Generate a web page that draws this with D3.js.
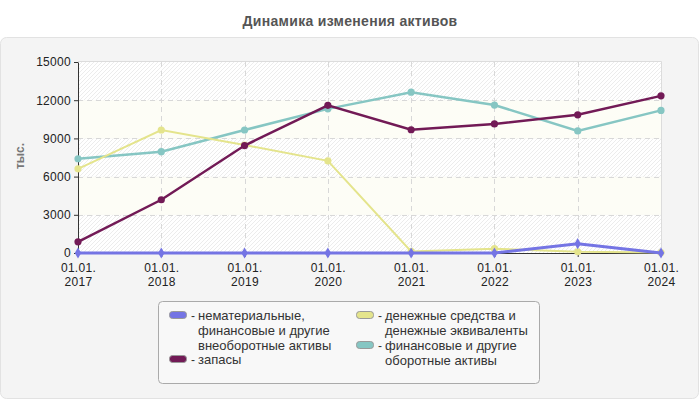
<!DOCTYPE html>
<html>
<head>
<meta charset="utf-8">
<script src="https://cdn.jsdelivr.net/npm/d3@7"></script>
<style>
   body { margin: 0; background: #fff; font-family: "Liberation Sans", Arial, sans-serif; }
   svg text { font-family: "Liberation Sans", Arial, sans-serif; }
</style>
</head>
<body>
<script>
// данные графика
years = ['2017', '2018', '2019', '2020', '2021', '2022', '2023', '2024'];
seriesNames = [
   ['нематериальные,', 'финансовые и другие', 'внеоборотные активы'],
   ['запасы'],
   ['денежные средства и', 'денежные эквиваленты'],
   ['финансовые и другие', 'оборотные активы']
];
intangible = [0, 0, 0, 0, 0, 0, 730, 0];
stocks = [880, 4180, 8440, 11600, 9680, 10140, 10850, 12340];
cash = [6610, 9660, 8480, 7240, 120, 340, 100, 30];
current = [7400, 7960, 9660, 11320, 12630, 11620, 9590, 11200];
yTicks = [0, 3000, 6000, 9000, 12000, 15000];
colors = ['#7474e4', '#721a56', '#e4e48c', '#86c6c3'];

svgWidth = 700;
svgHeight = 400;

svg = d3.select('body').append('svg')
   .attr('width', svgWidth)
   .attr('height', svgHeight);

// заголовок
svg.append('text')
   .attr('x', 350).attr('y', 26)
   .attr('text-anchor', 'middle')
   .style('font-size', '14px').style('font-weight', 'bold').style('fill', '#555')
   .style('letter-spacing', '0.3px')
   .text('Динамика изменения активов');

// серая панель
svg.append('rect')
   .attr('x', 0.5).attr('y', 37.5)
   .attr('width', 698).attr('height', 361)
   .attr('rx', 6).attr('ry', 6)
   .attr('fill', '#f4f4f4').attr('stroke', '#e2e2e2');

// штриховка
defs = svg.append('defs');
pat = defs.append('pattern')
   .attr('id', 'hatch')
   .attr('patternUnits', 'userSpaceOnUse')
   .attr('width', 4).attr('height', 4);
pat.append('rect').attr('width', 4).attr('height', 4).attr('fill', '#ffffff');
pat.append('path').attr('d', 'M-1,1 l2,-2 M0,4 l4,-4 M3,5 l2,-2')
   .attr('stroke', '#ececec').attr('stroke-width', 1);

pL = 78; pR = 661; pT = 62; pB = 253;

x = d3.scalePoint().domain(years).range([pL, pR]);
y = d3.scaleLinear().domain([0, 15000]).range([pB, pT]);

g = svg.append('g');
// полосы фона
for (i = 0; i < yTicks.length - 1; i++) {
   g.append('rect')
      .attr('x', pL).attr('y', y(yTicks[i + 1]))
      .attr('width', pR - pL).attr('height', y(yTicks[i]) - y(yTicks[i + 1]))
      .attr('fill', i % 2 === 0 ? 'url(#hatch)' : '#fdfdf6');
}
// рамка
g.append('path')
   .attr('d', 'M' + pL + ',' + (pT - 0.5) + 'H' + (pR + 0.5) + 'V' + pB)
   .attr('fill', 'none').attr('stroke', '#dcdcdc');

// сетка
g.selectAll('.hgrid').data(yTicks.slice(1, -1)).enter().append('line')
   .attr('x1', pL).attr('x2', pR)
   .attr('y1', (d) => {return Math.round(y(d)) + 0.5})
   .attr('y2', (d) => {return Math.round(y(d)) + 0.5})
   .attr('stroke', '#d8d8d8').attr('stroke-dasharray', '5,4');
g.selectAll('.vgrid').data(years.slice(1, -1)).enter().append('line')
   .attr('x1', (d) => {return Math.round(x(d)) + 0.5})
   .attr('x2', (d) => {return Math.round(x(d)) + 0.5})
   .attr('y1', pT).attr('y2', pB)
   .attr('stroke', '#d8d8d8').attr('stroke-dasharray', '5,4');

// оси
yAxis = svg.append('g')
   .attr('transform', 'translate(' + pL + ',0)')
   .call(d3.axisLeft(y).tickValues(yTicks).tickSize(4).tickSizeOuter(0).tickPadding(3).tickFormat(d3.format('d')));
xAxis = svg.append('g')
   .attr('transform', 'translate(0,' + pB + ')')
   .call(d3.axisBottom(x).tickSize(4).tickSizeOuter(0).tickFormat(''));
svg.selectAll('.domain').attr('stroke', '#333');
svg.selectAll('.tick line').attr('stroke', '#333');
yAxis.selectAll('text').style('font-size', '12px').style('fill', '#222')
   .style('letter-spacing', '0.3px').style('font-family', 'Liberation Sans, Arial, sans-serif');

xLabels = xAxis.selectAll('.tick').append('text')
   .attr('text-anchor', 'middle')
   .style('font-size', '12px').style('fill', '#222').style('letter-spacing', '0.3px')
   .style('font-family', 'Liberation Sans, Arial, sans-serif');
xLabels.append('tspan').attr('x', 0).attr('y', 19).text('01.01.');
xLabels.append('tspan').attr('x', 0).attr('y', 33).text((d) => {return d});

// подпись оси
svg.append('text')
   .attr('transform', 'translate(24,156) rotate(-90)')
   .attr('text-anchor', 'middle')
   .style('font-size', '12px').style('font-weight', 'bold').style('fill', '#777')
   .text('тыс.');

// линии
series = [intangible, stocks, cash, current];
widths = [3, 2.5, 2, 2.5];
drawOrder = [3, 2, 1, 0];
line = d3.line().x((d, i) => {return x(years[i])}).y((d) => {return y(d)});
drawOrder.forEach((k) => {
   sg = svg.append('g');
   sg.append('path')
      .datum(series[k])
      .attr('d', line)
      .attr('fill', 'none')
      .attr('stroke', colors[k])
      .attr('stroke-width', widths[k]);
   if (k === 0) {
      sg.selectAll('path.m').data(series[k]).enter().append('path')
         .attr('d', d3.symbol().type(d3.symbolDiamond).size(36))
         .attr('transform', (d, i) => {return 'translate(' + x(years[i]) + ',' + y(d) + ')'})
         .attr('fill', colors[k]);
   } else {
      sg.selectAll('circle').data(series[k]).enter().append('circle')
         .attr('cx', (d, i) => {return x(years[i])})
         .attr('cy', (d) => {return y(d)})
         .attr('r', 3.6)
         .attr('fill', colors[k]);
   }
});

// легенда
lg = svg.append('g');
lg.append('rect')
   .attr('x', 158.5).attr('y', 301.5)
   .attr('width', 381).attr('height', 82)
   .attr('rx', 4).attr('ry', 4)
   .attr('fill', '#f8f8f8').attr('stroke', '#aaa');
legendPos = [[169, 311], [169, 355], [356, 311], [356, 341]];
seriesNames.forEach((names, k) => {
   p = legendPos[k];
   lg.append('rect')
      .attr('x', p[0] + 0.5).attr('y', p[1] + 0.5)
      .attr('width', 17).attr('height', 7)
      .attr('rx', 3).attr('ry', 3)
      .attr('fill', colors[k]).attr('stroke', '#999');
   lg.append('text')
      .attr('x', p[0] + 22).attr('y', p[1] + 9)
      .style('font-size', '12px').style('fill', '#333')
      .text('-');
   names.forEach((n, j) => {
      lg.append('text')
         .attr('x', p[0] + 29).attr('y', p[1] + 9 + j * 15)
         .style('font-size', '13px').style('fill', '#333')
         .text(n);
   });
});
</script>
</body>
</html>
